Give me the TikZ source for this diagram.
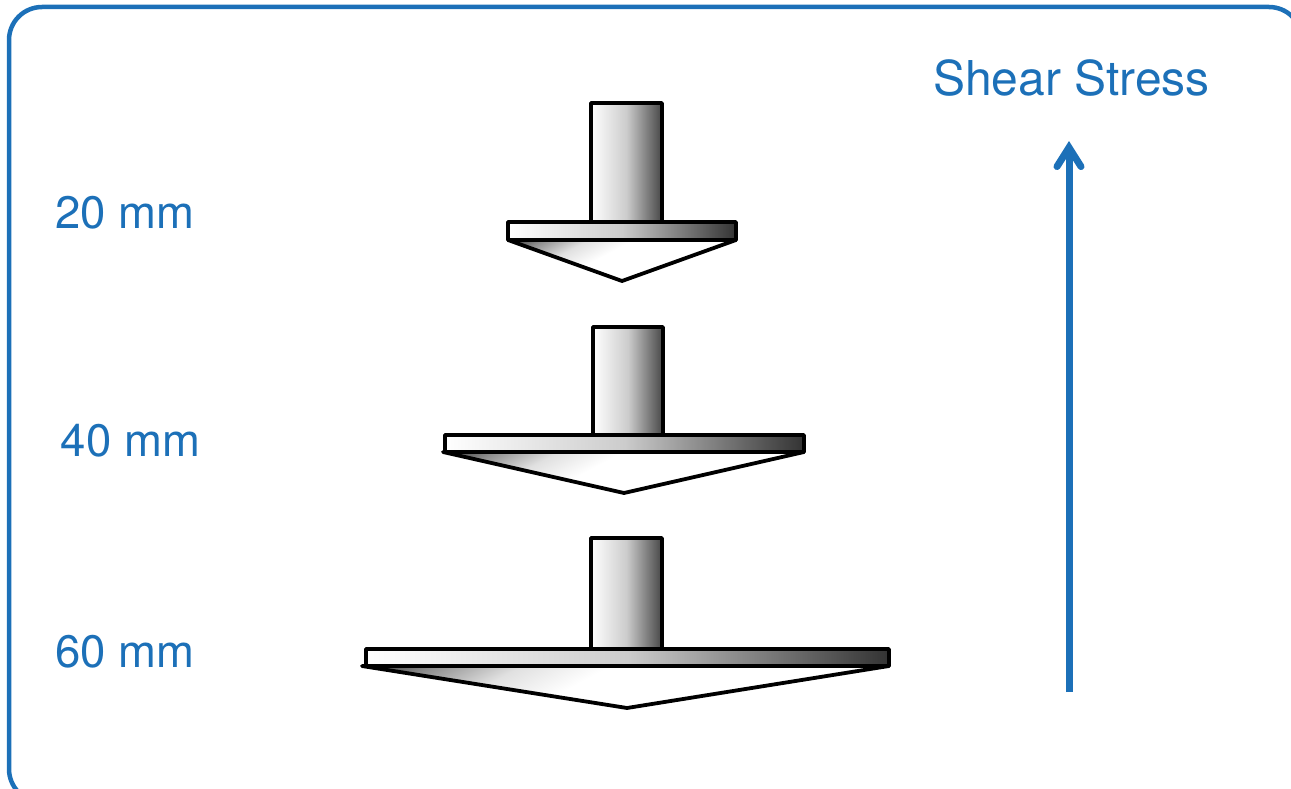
\documentclass[tikz,border=0pt]{standalone}
\usepackage{fontspec}
\setmainfont{TeX Gyre Heros}
\usetikzlibrary{arrows.meta}
\definecolor{plotblue}{RGB}{28, 112, 184}
\pgfdeclareverticalshading{conefade}{100bp}{color(0bp)=(white); color(56bp)=(white); color(66bp)=(black!12); color(76bp)=(black!45); color(84bp)=(black!80); color(100bp)=(black!80)}

\begin{document}
\begin{tikzpicture}[x=1pt, y=-1pt,
				>={Straight Barb[length=19pt, width=24pt, line cap=round]},
				part/.style={draw=black, line width=3.8pt, line join=round},
				stem/.style={part, left color=white, right color=black!72, middle color=black!20},
				flange/.style={part, left color=white, right color=black!80, middle color=black!20},
				cone/.style={part, shading=conefade, shading angle=28},
				label/.style={plotblue, font=\fontsize{45.5}{50}\selectfont, inner sep=0pt}]
				% frame
				\useasboundingbox (0,0) rectangle (1291,789);
				\clip (0,0) rectangle (1291,789);
				\draw[plotblue, line width=4.5pt, rounded corners=33pt] (9,7) rectangle (1302,802);
				% the three tools: stem left/right/top, flange left/right/top/bottom, cone left and apex
				\foreach \sl/\sr/\st/\fl/\fr/\ft/\fb/\cl/\ax/\ay in {
					591/662/103/508/736/222/240/508/622/281,
					593/663/327/445/804/435/452/443/624/493,
					591/662/538/366/889/649/666/362/627/708} {
					\draw[stem] (\sl,\st) rectangle (\sr,\ft);
					\draw[cone] (\cl,\fb) -- (\fr,\fb) -- (\ax,\ay) -- cycle;
					\draw[flange] (\fl,\ft) rectangle (\fr,\fb);
				}
				% labels
				\node[label] (d20) at (125,213) {20 mm};
				\node[label] (d40) at (130.5,441) {40 mm};
				\node[label] (d60) at (125,652) {60 mm};
				\node[label, font=\fontsize{48}{52}\selectfont] (shear) at (1071.5,78.5) {Shear Stress};
				% arrow
				\coordinate (low) at (1069,692);
				\coordinate (high) at (1069,141);
				\draw[->, plotblue, line width=7pt] (low) -- (high);
			\end{tikzpicture}
\end{document}
